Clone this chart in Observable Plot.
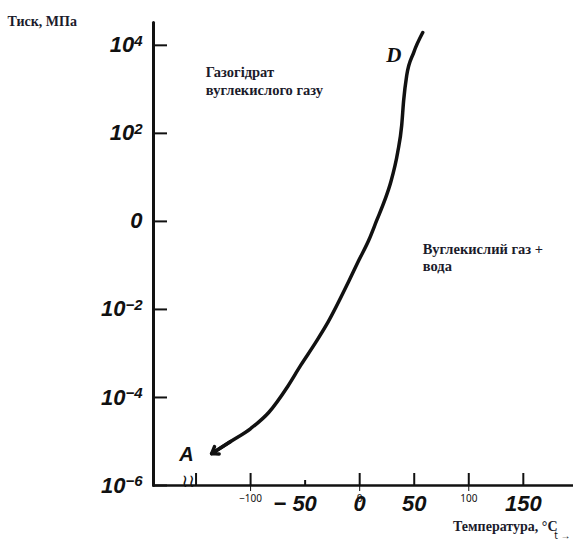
<!DOCTYPE html>
<html><head><meta charset="utf-8">
<script src="https://cdn.jsdelivr.net/npm/d3@7"></script>
<script src="https://cdn.jsdelivr.net/npm/@observablehq/plot@0.6"></script>
<style>
body{margin:0;background:#fff;}
#wrap{position:relative;width:573px;height:541px;}
#wrap svg.overlay{position:absolute;left:0;top:0;}
</style></head><body>
<div id="wrap"></div>
<script>
// Hydrate equilibrium curve A -> D (temperature °C, pressure MPa)
const temperature = [-135.7, -118.3, -99.9, -83.4, -66.0, -54.1, -40.3, -29.3, -10.1, -0.9, 8.2, 15.6, 22.9, 28.4, 34.8, 38.5, 40.3, 43.1, 49.5, 57.8];
const pressure = [5.3e-6, 1.0e-5, 1.97e-5, 4.56e-5, 1.78e-4, 5.35e-4, 1.78e-3, 5.0e-3, 4.3e-2, 0.129, 0.368, 1.05, 2.99, 7.65, 36.7, 151, 558, 2060, 6850, 19500];

const xDomain = [-189, 196];
const yDomain = [1e-6, 33000];
const yTicks = [1e-6, 1e-4, 1e-2, 1, 1e2, 1e4];
const xTicksLong = [-150, -100, 0, 50, 100, 150];
const xTicksShort = [-50];
const xTickLabels = [0, 50, 150];
const xTickLabelsNeg = [-50];

const yTitle = ["Тиск, МПа"];
const xTitle = ["Температура, °C"];
const regionLabels = [
  {t: -141, p: 3600, text: "Газогідрат\nвуглекислого газу"},
  {t: 57.8, p: 0.35, text: "Вуглекислий газ +\nвода"}
];
const labelD = [{t: 31.2, p: 5900, text: "D"}];
const labelA = [{t: -158.7, p: 5.0e-6, text: "A"}];
const breakMark = ["≀≀"];

const curve = temperature.map((t, i) => ({t, p: pressure[i]}));
const arrowSeg = [{x1: temperature[1], y1: pressure[1], x2: temperature[0], y2: pressure[0]}];
const yAxisLine = [{t: xDomain[0], p: yDomain[0]}, {t: xDomain[0], p: yDomain[1]}];
const xAxisLine = [{t: xDomain[0], p: yDomain[0]}, {t: xDomain[1], p: yDomain[0]}];

const yFmt = d => d === 1 ? "0" : "10^" + String(Math.round(Math.log10(d))).replace("-", "−");
const xFmt = d => String(d).replace("-", "− ");
const serif = "Liberation Serif";

const frame = {
  width: 573,
  height: 541,
  marginLeft: 153,
  marginRight: 0,
  marginTop: 22,
  marginBottom: 56,
  x: {domain: xDomain},
  y: {type: "log", domain: yDomain}
};

const chart = Plot.plot({
  ...frame,
  style: {fontFamily: "Liberation Sans", fontSize: "22px", fontStyle: "italic", fontWeight: "bold", color: "#111", background: "#fff"},
  marks: [
    Plot.axisY(yTicks, {tickSize: 0, tickPadding: 11, tickFormat: yFmt, label: null, fill: "#111"}),
    Plot.axisX(xTickLabels, {tickSize: 0, tickPadding: 10, tickFormat: xFmt, label: null, fill: "#111"}),
    Plot.axisX(xTickLabelsNeg, {tickSize: 0, tickPadding: 10, tickFormat: xFmt, label: null, fill: "#111", dx: -10}),
    Plot.line(curve, {x: "t", y: "p", curve: "monotone-x", strokeWidth: 3.5, stroke: "#111"}),
    Plot.arrow(arrowSeg, {x1: "x1", y1: "y1", x2: "x2", y2: "y2", strokeWidth: 3.5, headLength: 11, headAngle: 70, stroke: "#111"}),
    Plot.text(regionLabels, {x: "t", y: "p", text: "text", textAnchor: "start", lineAnchor: "top", lineHeight: 1.2, fontFamily: serif, fontSize: 14.5, fontStyle: "normal", fontWeight: "bold", fill: "#1b1b2b"}),
    Plot.text(labelD, {x: "t", y: "p", text: "text", fontFamily: serif, fontSize: 21, fontStyle: "italic", fontWeight: "bold", fill: "#111"}),
    Plot.text(labelA, {x: "t", y: "p", text: "text", fontFamily: "Liberation Sans", fontSize: 20, fontStyle: "italic", fontWeight: "bold", fill: "#111"}),
    Plot.text(yTitle, {frameAnchor: "top-left", dx: -146, dy: -6, textAnchor: "start", fontFamily: serif, fontSize: 14, fontStyle: "normal", fontWeight: "bold", fill: "#1b1b2b"}),
    Plot.text(xTitle, {frameAnchor: "bottom-right", dx: -16, dy: 45, textAnchor: "end", fontFamily: serif, fontSize: 14, fontStyle: "normal", fontWeight: "bold", fill: "#1b1b2b"}),
    Plot.axisX(xTicksLong, {tickSize: -12, fill: "none", strokeWidth: 2, stroke: "#111", label: null}),
    Plot.axisX(xTicksShort, {tickSize: -5, fill: "none", strokeWidth: 2, stroke: "#111", label: null}),
    Plot.text(breakMark, {frameAnchor: "bottom-left", dx: 28, dy: 1, fontSize: 18, fontStyle: "normal", fontWeight: "normal", fontFamily: "DejaVu Sans", fill: "#111"})
  ]
});

// superscript exponents
chart.querySelectorAll('g[aria-label="y-axis tick label"] text').forEach(el => {
  const s = el.textContent;
  if (s.includes("^")) {
    const [base, exp] = s.split("^");
    el.textContent = base;
    const ts = document.createElementNS("http://www.w3.org/2000/svg", "tspan");
    ts.setAttribute("dy", "-0.45em");
    ts.setAttribute("font-size", "15px");
    ts.textContent = exp;
    el.appendChild(ts);
  }
});

// axis lines and inward y ticks, drawn with the same scales in a layer on top
const axesLayer = Plot.plot({
  ...frame,
  className: "overlay",
  style: {background: "transparent", color: "#111"},
  marks: [
    Plot.axisY(yTicks, {tickSize: -14, fill: "none", strokeWidth: 2, stroke: "#111", label: null}),
    Plot.line(xAxisLine, {x: "t", y: "p", strokeWidth: 2.5, stroke: "#111"}),
    Plot.line(yAxisLine, {x: "t", y: "p", strokeWidth: 3, stroke: "#111"})
  ]
});
axesLayer.classList.add("overlay");

const wrap = document.getElementById("wrap");
wrap.appendChild(chart);
wrap.appendChild(axesLayer);
</script>
</body></html>
